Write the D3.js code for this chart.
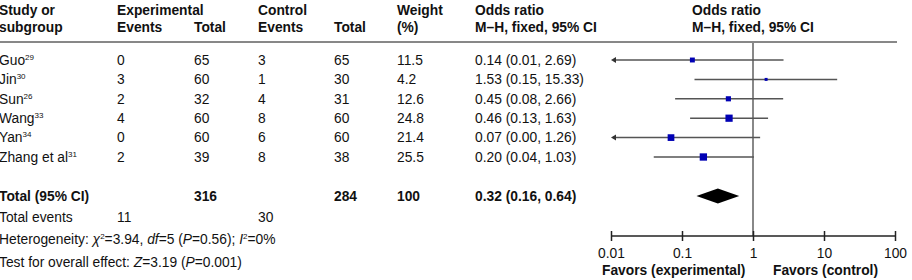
<!DOCTYPE html>
<html>
<head>
<meta charset="utf-8">
<script src="https://cdn.jsdelivr.net/npm/d3@7"></script>
<style>
  body { margin: 0; background: #fff; }
  svg text { font-family: "Liberation Sans", Arial, sans-serif; font-size: 13.8px; fill: #111; }
  .bold { font-weight: bold; }
</style>
</head>
<body>
<div id="chart"></div>
<script>
// study rows
const studies = ['Guo', 'Jin', 'Sun', 'Wang', 'Yan', 'Zhang et al'];
const refs = ['29', '30', '26', '33', '34', '31'];
const expEvents = [0, 3, 2, 4, 0, 2];
const expTotal = [65, 60, 32, 60, 60, 39];
const ctrlEvents = [3, 1, 4, 8, 6, 8];
const ctrlTotal = [65, 30, 31, 60, 60, 38];
const weights = [11.5, 4.2, 12.6, 24.8, 21.4, 25.5];
const orValue = [0.14, 1.53, 0.45, 0.46, 0.07, 0.20];
const orLow = [0.01, 0.15, 0.08, 0.13, 0.00, 0.04];
const orHigh = [2.69, 15.33, 2.66, 1.63, 1.26, 1.03];

// pooled
const totalExp = 316, totalCtrl = 284, totalWeight = 100;
const pooled = [0.32, 0.16, 0.64];
const totalEventsExp = 11, totalEventsCtrl = 30;

const axisTicks = [0.01, 0.1, 1, 10, 100];
const axisLabels = ['0.01', '0.1', '1', '10', '100'];

const width = 912, height = 280;
const svg = d3.select('#chart').append('svg')
    .attr('width', width)
    .attr('height', height);

const x = d3.scaleLog().domain([0.01, 100]).range([611, 895]);
const rowY = d3.scalePoint().domain(d3.range(studies.length)).range([60, 157]);
const totalY = 196;
const axisY = 236;

const col = {study: -1, expE: 117, expT: 194, ctrlE: 258, ctrlT: 334, weight: 397, or: 475};
const fmt = d3.format('.2f');

// header
const hdr = [
  [col.study, 'Study or', 'subgroup'],
  [col.expE, 'Experimental', 'Events'],
  [col.expT, '', 'Total'],
  [col.ctrlE, 'Control', 'Events'],
  [col.ctrlT, '', 'Total'],
  [col.weight, 'Weight', '(%)'],
  [col.or, 'Odds ratio', 'M\u2013H, fixed, 95% CI'],
  [692, 'Odds ratio', 'M\u2013H, fixed, 95% CI']
];
hdr.forEach(h => {
  svg.append('text').attr('class', 'bold').attr('x', h[0]).attr('y', 10).attr('dy', '0.35em').text(h[1]);
  svg.append('text').attr('class', 'bold').attr('x', h[0]).attr('y', 27).attr('dy', '0.35em').text(h[2]);
});

svg.append('line')
    .attr('x1', 0).attr('x2', 897)
    .attr('y1', 42).attr('y2', 42)
    .attr('stroke', '#111').attr('stroke-width', 1);

// vertical line of no effect
svg.append('line')
    .attr('x1', x(1)).attr('x2', x(1))
    .attr('y1', 42).attr('y2', axisY)
    .attr('stroke', '#888').attr('stroke-width', 2);

// small raised number inside a text
function sup(t, s, back) {
  t.append('tspan').attr('font-size', '8px').attr('dy', -5).text(s);
  if (back) t.append('tspan').attr('dy', 5).text(back);
}

// study rows
studies.forEach((s, i) => {
  const y = rowY(i);
  const t = svg.append('text').attr('x', col.study).attr('y', y).attr('dy', '0.35em').text(s);
  sup(t, refs[i]);
  [[col.expE, expEvents[i]], [col.expT, expTotal[i]], [col.ctrlE, ctrlEvents[i]],
   [col.ctrlT, ctrlTotal[i]], [col.weight, weights[i]]].forEach(c => {
    svg.append('text').attr('x', c[0]).attr('y', y).attr('dy', '0.35em').text(c[1]);
  });
  svg.append('text').attr('x', col.or).attr('y', y).attr('dy', '0.35em')
      .text(`${fmt(orValue[i])} (${fmt(orLow[i])}, ${fmt(orHigh[i])})`);

  // CI line, clipped with arrow when beyond axis
  const lo = Math.max(orLow[i], 0.01);
  const clipped = orLow[i] <= 0.01;
  const x1 = x(lo), x2 = x(Math.min(orHigh[i], 100));
  svg.append('line')
      .attr('x1', clipped ? x1 + 2 : x1).attr('x2', x2)
      .attr('y1', y).attr('y2', y)
      .attr('stroke', '#555').attr('stroke-width', 1.5);
  if (clipped) {
    svg.append('path')
        .attr('d', `M${x1},${y} L${x1 + 5},${y - 3} L${x1 + 5},${y + 3} Z`)
        .attr('fill', '#333');
  }
  const side = Math.sqrt(weights[i]) * 1.45;
  svg.append('rect')
      .attr('x', x(orValue[i]) - side / 2).attr('y', y - side / 2)
      .attr('width', side).attr('height', side)
      .attr('fill', '#0000b4');
});

// total row
[[col.study, 'Total (95% CI)'], [col.expT, totalExp], [col.ctrlT, totalCtrl],
 [col.weight, totalWeight], [col.or, `${fmt(pooled[0])} (${fmt(pooled[1])}, ${fmt(pooled[2])})`]]
  .forEach(c => {
    svg.append('text').attr('class', 'bold').attr('x', c[0]).attr('y', totalY).attr('dy', '0.35em').text(c[1]);
  });

svg.append('path')
    .attr('d', `M${x(pooled[1])},${totalY} L${x(pooled[0])},${totalY - 7.5} L${x(pooled[2])},${totalY} L${x(pooled[0])},${totalY + 7.5} Z`)
    .attr('fill', '#000');

svg.append('text').attr('x', col.study).attr('y', 217).attr('dy', '0.35em').text('Total events');
svg.append('text').attr('x', col.expE).attr('y', 217).attr('dy', '0.35em').text(totalEventsExp);
svg.append('text').attr('x', col.ctrlE).attr('y', 217).attr('dy', '0.35em').text(totalEventsCtrl);

// heterogeneity
const het = svg.append('text').attr('x', col.study).attr('y', 239).attr('dy', '0.35em');
het.append('tspan').text('Heterogeneity: ');
het.append('tspan').attr('font-style', 'italic').text('\u03c7');
sup(het, '2', '=3.94, ');
het.append('tspan').attr('font-style', 'italic').text('df');
het.append('tspan').text('=5 (');
het.append('tspan').attr('font-style', 'italic').text('P');
het.append('tspan').text('=0.56); ');
het.append('tspan').attr('font-style', 'italic').text('I');
sup(het, '2', '=0%');

const test = svg.append('text').attr('x', col.study).attr('y', 262).attr('dy', '0.35em');
test.append('tspan').text('Test for overall effect: ');
test.append('tspan').attr('font-style', 'italic').text('Z');
test.append('tspan').text('=3.19 (');
test.append('tspan').attr('font-style', 'italic').text('P');
test.append('tspan').text('=0.001)');

// axis
const axis = d3.axisBottom(x)
    .tickValues(axisTicks)
    .tickFormat((d, i) => axisLabels[i])
    .tickSize(5)
    .tickPadding(7);
const ag = svg.append('g').attr('transform', `translate(0,${axisY})`).call(axis);
ag.select('.domain').attr('stroke', '#222').attr('stroke-width', 1.5).attr('d', `M${x(0.01)},0H${x(100)}`);
ag.selectAll('.tick line').attr('y1', -5).attr('y2', 5).attr('stroke', '#222').attr('stroke-width', 1.5);
ag.selectAll('.tick text').style('font-family', '"Liberation Sans", Arial, sans-serif').style('font-size', '13.8px').attr('fill', '#111');

svg.append('text').attr('class', 'bold').attr('x', 602).attr('y', 270).attr('dy', '0.35em').text('Favors (experimental)');
svg.append('text').attr('class', 'bold').attr('x', 773).attr('y', 270).attr('dy', '0.35em').text('Favors (control)');
</script>
</body>
</html>
